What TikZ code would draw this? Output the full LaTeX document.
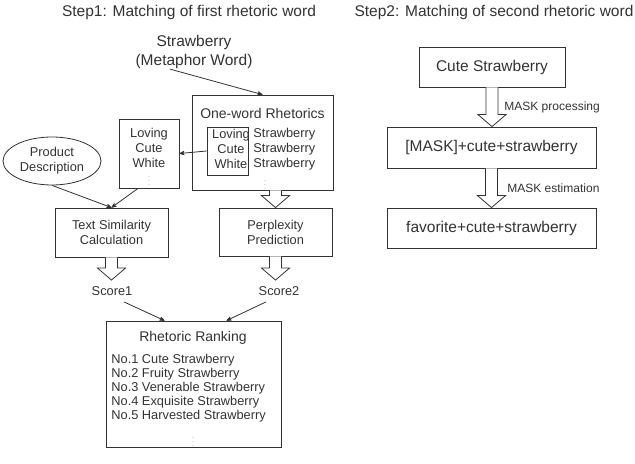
\documentclass[tikz,border=0pt]{standalone}
\usepackage{fontspec}
\setmainfont{Liberation Sans}
\usetikzlibrary{calc}
\usetikzlibrary{arrows}
\usetikzlibrary{shapes.geometric}

\definecolor{ink}{HTML}{333333}
\newcommand{\fsbig}{\fontsize{15.5bp}{19bp}\selectfont}
\newcommand{\fsmid}{\fontsize{14bp}{17bp}\selectfont}
\newcommand{\fssm}{\fontsize{12.8bp}{15bp}\selectfont}
\newcommand{\fslist}{\fontsize{12.8bp}{14bp}\selectfont}
\newcommand{\fsxs}{\fontsize{12bp}{14bp}\selectfont}
\newcommand{\fsdots}{\fontsize{7bp}{7bp}\selectfont}

\tikzset{
  box/.style={draw=ink, line width=0.8bp, inner sep=0pt, text=ink},
  lbl/.style={text=ink, inner sep=0pt},
  dots/.style={text=black!45, inner sep=0pt, font=\fsdots},
}

% hollow block arrow going down, from #1 to #2
\newcommand{\fatarrow}[2]{%
 \draw[ink, line width=0.8bp, fill=white] let \p1=(#1), \p2=(#2) in
   (\x1-6bp,\y1) -- (\x1-6bp,\y2+12bp) -- (\x1-14bp,\y2+12bp) -- (\x1,\y2)
   -- (\x1+14bp,\y2+12bp) -- (\x1+6bp,\y2+12bp) -- (\x1+6bp,\y1);
}

\begin{document}
\begin{tikzpicture}[x=1bp, y=-1bp, >=stealth', line width=0.8bp]
\useasboundingbox (0,0) rectangle (635,464);

% titles
\node[lbl, font=\fsbig] (step1) at (189,12) {Step1: Matching of first rhetoric word};
\node[lbl, font=\fsbig] (step2) at (494,12) {Step2: Matching of second rhetoric word};

% step 1
\node[lbl, font=\fsbig, align=center] (meta) at (194,52) {Strawberry\\(Metaphor Word)};
\node[box, minimum width=141bp, minimum height=95bp] (onew) at (262.5,142.5) {};
\node[lbl, font=\fsmid] (onewtitle) at (262.5,113) {One-word Rhetorics};
\node[box, minimum width=41bp, minimum height=48bp] (inner) at (227.5,151) {};
\node[lbl, font=\fssm, align=center] (words) at (231,149) {Loving\\Cute\\White};
\node[lbl, font=\fssm, align=left, anchor=west] (straws) at (253,149) {Strawberry\\Strawberry\\Strawberry};
\node[dots] (dots1) at (265,182) {$\vdots$};

\node[box, minimum width=60bp, minimum height=69bp] (loving) at (149,153.5) {};
\node[lbl, font=\fssm, align=center] (lovwords) at (149,148) {Loving\\Cute\\White};
\node[dots] (dots3) at (149,178) {$\vdots$};
\node[draw=ink, ellipse, minimum width=98bp, minimum height=48bp, inner sep=0pt, text=ink,
  font=\fssm, align=center] (prod) at (52,161) {Product\\Description};

\node[box, minimum width=113bp, minimum height=49bp, align=center, font=\fssm] (tsc) at (111.5,232.5)
  {Text Similarity\\Calculation};
\node[box, minimum width=113bp, minimum height=48bp, align=center, font=\fssm] (perp) at (275.5,232)
  {Perplexity\\Prediction};

\node[lbl, font=\fssm, inner sep=6bp] (score1) at (112,291) {Score1};
\node[lbl, font=\fssm, inner sep=6bp] (score2) at (279,291) {Score2};

\node[box, minimum width=175bp, minimum height=126bp] (rank) at (193.5,384) {};
\node[lbl, font=\fsmid] (ranktitle) at (193,338) {Rhetoric Ranking};
\node[lbl, font=\fslist, align=left, anchor=north west] (ranklist) at (111,354)
  {No.1 Cute Strawberry\\No.2 Fruity Strawberry\\No.3 Venerable Strawberry\\No.4 Exquisite Strawberry\\No.5 Harvested Strawberry};
\node[dots] (dots2) at (193,439) {$\vdots$};

\draw[ink, ->] ($(meta.south)+(-24,0)$) -- (onew.north);
\draw[ink, ->] (inner.west) -- (loving.east);
\draw[ink, ->] (prod.south) -- (tsc.north);
\draw[ink, ->] ($(loving.south)+(-11,0)$) -- (tsc.north);
\fatarrow{perp.north |- onew.south}{perp.north}
\fatarrow{tsc.south}{score1.north}
\fatarrow{perp.south}{score2.north}
\draw[ink, ->] ($(score1.south)+(12,0)$) -- ($(rank.north)+(-29,0)$);
\draw[ink, ->] ($(score2.south)+(-13,0)$) -- ($(rank.north)+(33,0)$);

% step 2
\node[box, minimum width=146bp, minimum height=40bp, font=\fsbig] (cute) at (492,67) {Cute Strawberry};
\node[box, minimum width=209bp, minimum height=41bp, font=\fsbig] (mask) at (491.5,147.5) {[MASK]+cute+strawberry};
\node[box, minimum width=209bp, minimum height=40bp, font=\fsbig] (fav) at (491.5,228) {favorite+cute+strawberry};
\fatarrow{cute.south}{mask.north}
\fatarrow{mask.south}{fav.north}
\node[lbl, font=\fsxs, anchor=west] (lblproc) at (504,107) {MASK processing};
\node[lbl, font=\fsxs, anchor=west] (lblest) at (507,188) {MASK estimation};
\end{tikzpicture}
\end{document}
